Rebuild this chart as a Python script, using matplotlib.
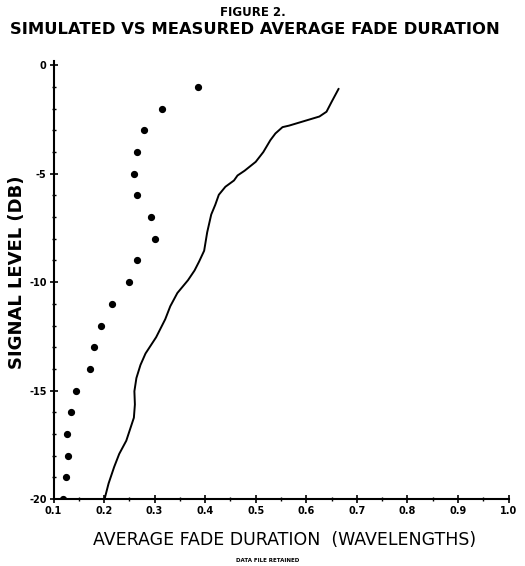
import matplotlib
matplotlib.use("Agg")
import matplotlib.pyplot as plt
from matplotlib.ticker import MultipleLocator, FixedLocator, FixedFormatter

plt.rcParams['axes.unicode_minus'] = False

# Measured (dots) at each signal level
meas_level = [-1, -2, -3, -4, -5, -6, -7, -8, -9, -10,
              -11, -12, -13, -14, -15, -16, -17, -18, -19, -20]
meas_afd = [0.386, 0.315, 0.279, 0.266, 0.259, 0.266, 0.292, 0.300, 0.266, 0.249,
            0.215, 0.193, 0.180, 0.173, 0.145, 0.135, 0.126, 0.128, 0.124, 0.118]

# Simulated (curve)
sim_afd = [0.664, 0.650, 0.640, 0.626, 0.606, 0.586, 0.566, 0.553, 0.539, 0.529,
           0.515, 0.500, 0.478, 0.464, 0.457, 0.440, 0.427, 0.420, 0.412, 0.404,
           0.398, 0.388, 0.379, 0.366, 0.345, 0.331, 0.321, 0.303, 0.282, 0.272,
           0.264, 0.260, 0.261, 0.259, 0.244, 0.230, 0.220, 0.209, 0.201]
sim_level = [-1.08, -1.69, -2.14, -2.36, -2.50, -2.64, -2.78, -2.85, -3.14, -3.45,
             -4.00, -4.45, -4.86, -5.08, -5.31, -5.60, -5.97, -6.43, -6.88, -7.70,
             -8.55, -9.05, -9.46, -9.91, -10.50, -11.11, -11.71, -12.54, -13.29, -13.82,
             -14.42, -15.03, -15.64, -16.25, -17.31, -17.92, -18.52, -19.28, -20.0]

x_ticks = [0.1, 0.2, 0.3, 0.4, 0.5, 0.6, 0.7, 0.8, 0.9, 1.0]
x_tick_labels = ["0.1", "0.2", "0.3", "0.4", "0.5", "0.6", "0.7", "0.8", "0.9", "1.0"]
y_ticks = [0, -5, -10, -15, -20]
y_tick_labels = ["0", "-5", "-10", "-15", "-20"]

W, H = 525, 566
fig = plt.figure(figsize=(W / 100, H / 100), dpi=100)
fig.patch.set_facecolor("white")

ax = fig.add_axes([53.5 / W, 1 - 499 / H, 455 / W, (499 - 61) / H])
ax.set_xlim(0.1, 1.0)
ax.set_ylim(-20, 0.2)

ax.plot(sim_afd, sim_level, color="black", lw=1.4, solid_capstyle="round",
        solid_joinstyle="round")
ax.plot(meas_afd, meas_level, linestyle="none", marker="o", ms=4.2,
        color="black")

for s in ["top", "right"]:
    ax.spines[s].set_visible(False)
for s in ["left", "bottom"]:
    ax.spines[s].set_linewidth(1.5)
    ax.spines[s].set_color("black")

ax.xaxis.set_major_locator(FixedLocator(x_ticks))
ax.xaxis.set_major_formatter(FixedFormatter(x_tick_labels))
ax.xaxis.set_minor_locator(MultipleLocator(0.05))
ax.yaxis.set_major_locator(FixedLocator(y_ticks))
ax.yaxis.set_major_formatter(FixedFormatter(y_tick_labels))
ax.yaxis.set_minor_locator(MultipleLocator(1))

ax.tick_params(axis="both", which="major", direction="inout", length=6, width=1.2,
               labelsize=7, pad=2, colors="black")
ax.tick_params(axis="both", which="minor", direction="inout", length=3, width=1.0)
for lab in ax.get_xticklabels() + ax.get_yticklabels():
    lab.set_fontweight("bold")

def ftext(x, y, s, **kw):
    fig.text(x / W, 1 - y / H, s, ha="center", va="center", **kw)

ftext(253, 13, "FIGURE 2.", fontsize=8.5, fontweight="bold")
ftext(255, 30, "SIMULATED VS MEASURED AVERAGE FADE DURATION", fontsize=11.8,
      fontweight="bold")
ftext(285, 540, "AVERAGE FADE DURATION  (WAVELENGTHS)", fontsize=12.5)
ftext(17, 272, "SIGNAL LEVEL (DB)", fontsize=13, fontweight="bold", rotation=90)
ftext(268, 561, "DATA FILE RETAINED", fontsize=4, fontweight="bold")

fig.savefig("out.png", dpi=100, facecolor="white")
